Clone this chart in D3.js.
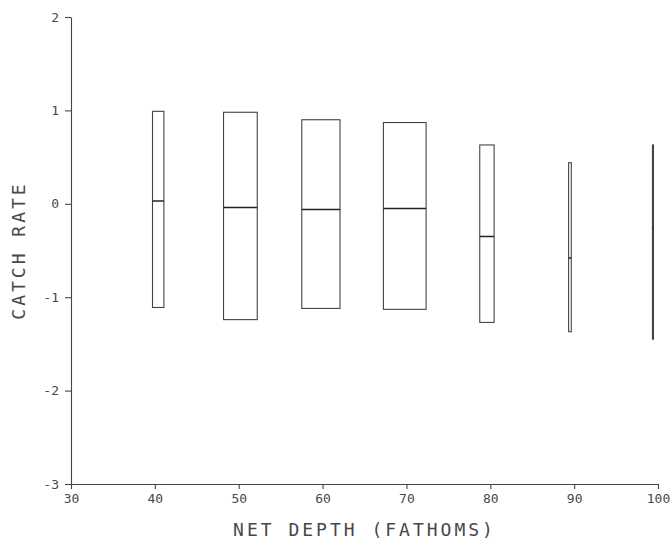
<!DOCTYPE html>
<html><head><meta charset="utf-8">
<script src="https://cdn.jsdelivr.net/npm/d3@7"></script>
<style>body{margin:0;background:#fff}svg{display:block}</style>
</head><body>
<script>
const depths  = [40.4, 50.2, 59.8, 69.8, 79.6, 89.5, 99.4];
const widths  = [1.36, 4.02, 4.56, 5.09, 1.71, 0.32, 0.12];
const uppers  = [0.99, 0.98, 0.90, 0.87, 0.63, 0.44, 0.63];
const medians = [0.03, -0.04, -0.06, -0.05, -0.35, -0.58, -0.26];
const lowers  = [-1.11, -1.24, -1.12, -1.13, -1.27, -1.37, -1.45];
const xTicks = [30, 40, 50, 60, 70, 80, 90, 100];
const yTicks = [-3, -2, -1, 0, 1, 2];
const xTitle = "NET DEPTH (FATHOMS)";
const yTitle = "CATCH RATE";

const W = 670, H = 539;
const svg = d3.select("body").append("svg").attr("width", W).attr("height", H);
const x = d3.scaleLinear().domain([30, 100]).range([71, 658]);
const y = d3.scaleLinear().domain([-3, 2]).range([484, 17]);
const ink = "#444";
const font = "'DejaVu Sans Mono', monospace";

const xa = svg.append("g").attr("transform", `translate(0,${y(-3)})`)
  .call(d3.axisBottom(x).tickValues(xTicks).tickSize(5).tickPadding(5).tickSizeOuter(0));
const ya = svg.append("g").attr("transform", `translate(${x(30)},0)`)
  .call(d3.axisLeft(y).tickValues(yTicks).tickSize(6).tickPadding(6).tickSizeOuter(0)
    .tickFormat(d => String(d)));
[xa, ya].forEach(a => {
  a.selectAll("path,line").attr("stroke", ink).attr("stroke-width", 1.1);
  a.selectAll("text").attr("fill", "#484848").style("font-family", font).style("font-size", "13px");
});

const data = depths.map((d, i) => ({d, w: widths[i], hi: uppers[i], md: medians[i], lo: lowers[i]}));
const g = svg.append("g");
g.selectAll("rect.box").data(data).join("rect").attr("class", "box")
  .attr("x", d => x(d.d - d.w / 2))
  .attr("width", d => x(d.d + d.w / 2) - x(d.d - d.w / 2))
  .attr("y", d => y(d.hi))
  .attr("height", d => y(d.lo) - y(d.hi))
  .attr("fill", "none").attr("stroke", ink).attr("stroke-width", 1.1);
g.selectAll("line.med").data(data).join("line").attr("class", "med")
  .attr("x1", d => x(d.d - d.w / 2)).attr("x2", d => x(d.d + d.w / 2))
  .attr("y1", d => y(d.md)).attr("y2", d => y(d.md))
  .attr("stroke", "#222").attr("stroke-width", 1.5);

svg.append("text").attr("x", (x(30) + x(100)) / 2).attr("y", 536)
  .attr("text-anchor", "middle").attr("fill", "#484848")
  .style("font-family", font).style("font-size", "18px").style("letter-spacing", "3px")
  .text(xTitle);
svg.append("text").attr("transform", `translate(25,${(y(-3) + y(2)) / 2}) rotate(-90)`)
  .attr("text-anchor", "middle").attr("fill", "#484848")
  .style("font-family", font).style("font-size", "18px").style("letter-spacing", "3px")
  .text(yTitle);
</script>
</body></html>
